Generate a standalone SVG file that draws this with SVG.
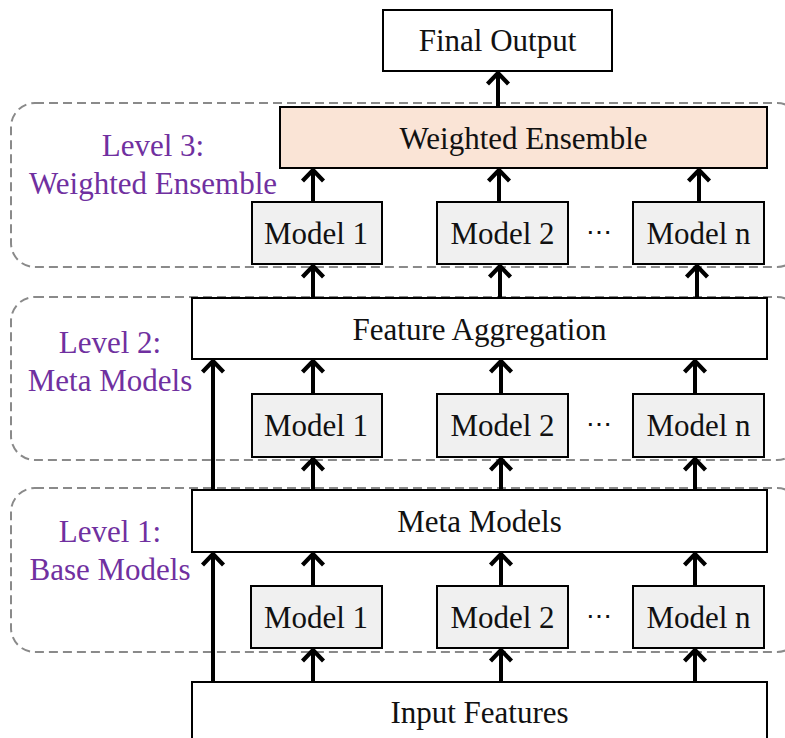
<svg xmlns="http://www.w3.org/2000/svg" width="785" height="738" viewBox="0 0 785 738">
  <style>
    .grp { fill: none; stroke: #8a8a8a; stroke-width: 2; stroke-dasharray: 9 5; }
    .box { fill: #ffffff; stroke: #000000; stroke-width: 2; }
    .model { fill: #f0f0f0; stroke: #000000; stroke-width: 2; }
    .ens { fill: #fae4d6; stroke: #000000; stroke-width: 2; }
    .t { font-family: "Liberation Serif", "Times New Roman", serif; font-size: 31px; fill: #111111; text-anchor: middle; }
    .dots { font-family: "Liberation Serif", "Times New Roman", serif; font-size: 26px; fill: #111111; text-anchor: middle; }
    .lvl { font-family: "Liberation Serif", "Times New Roman", serif; font-size: 31px; fill: #7030a0; text-anchor: middle; }
    .arr { stroke: #000000; stroke-width: 4; fill: none; marker-end: url(#head); }
  </style>
  <defs>
    <marker id="head" markerUnits="userSpaceOnUse" viewBox="-14 -14 18 28" refX="0" refY="0" markerWidth="18" markerHeight="28" orient="auto" overflow="visible">
      <path d="M-11,-10.5 L0,0 L-11,10.5" fill="none" stroke="#000000" stroke-width="4.2"/>
    </marker>
  </defs>

  <rect width="785" height="738" fill="#ffffff"/>

  <!-- level frames -->
  <g id="level3">
    <rect class="grp" x="11" y="103" width="790" height="164" rx="24"/>
    <text class="lvl" x="153" y="156">Level 3:</text>
    <text class="lvl" x="153" y="194">Weighted Ensemble</text>
  </g>
  <g id="level2">
    <rect class="grp" x="11" y="297" width="790" height="163" rx="24"/>
    <text class="lvl" x="110" y="353">Level 2:</text>
    <text class="lvl" x="110" y="391">Meta Models</text>
  </g>
  <g id="level1">
    <rect class="grp" x="11" y="488" width="790" height="164" rx="24"/>
    <text class="lvl" x="110" y="542">Level 1:</text>
    <text class="lvl" x="110" y="580">Base Models</text>
  </g>

  <!-- connectors -->
  <g id="connectors">
    <line class="arr" x1="498" y1="107" x2="498" y2="73"/>
    <line class="arr" x1="313" y1="202" x2="313" y2="170"/>
    <line class="arr" x1="499" y1="202" x2="499" y2="170"/>
    <line class="arr" x1="699" y1="202" x2="699" y2="170"/>
    <line class="arr" x1="313" y1="298" x2="313" y2="266"/>
    <line class="arr" x1="500" y1="298" x2="500" y2="266"/>
    <line class="arr" x1="697" y1="298" x2="697" y2="266"/>
    <line class="arr" x1="313" y1="394" x2="313" y2="361"/>
    <line class="arr" x1="501" y1="394" x2="501" y2="361"/>
    <line class="arr" x1="695" y1="394" x2="695" y2="361"/>
    <line class="arr" x1="213" y1="490" x2="213" y2="361"/>
    <line class="arr" x1="313" y1="490" x2="313" y2="459"/>
    <line class="arr" x1="501" y1="490" x2="501" y2="459"/>
    <line class="arr" x1="695" y1="490" x2="695" y2="459"/>
    <line class="arr" x1="313" y1="586" x2="313" y2="554"/>
    <line class="arr" x1="501" y1="586" x2="501" y2="554"/>
    <line class="arr" x1="695" y1="586" x2="695" y2="554"/>
    <line class="arr" x1="213" y1="682" x2="213" y2="554"/>
    <line class="arr" x1="313" y1="682" x2="313" y2="650"/>
    <line class="arr" x1="501" y1="682" x2="501" y2="650"/>
    <line class="arr" x1="695" y1="682" x2="695" y2="650"/>
  </g>

  <!-- nodes -->
  <g id="final-output">
    <rect class="box" x="383" y="10" width="229" height="61"/>
    <text class="t" x="497.5" y="51">Final Output</text>
  </g>
  <g id="weighted-ensemble">
    <rect class="ens" x="280" y="107" width="487" height="61"/>
    <text class="t" x="523.5" y="149">Weighted Ensemble</text>
  </g>
  <g id="l3-model-1">
    <rect class="model" x="252" y="202" width="130" height="62"/>
    <text class="t" x="316" y="244">Model 1</text>
  </g>
  <g id="l3-model-2">
    <rect class="model" x="437" y="202" width="131" height="62"/>
    <text class="t" x="502.5" y="244">Model 2</text>
  </g>
  <g id="l3-dots"><text class="dots" x="599" y="241">⋯</text></g>
  <g id="l3-model-n">
    <rect class="model" x="633" y="202" width="131" height="62"/>
    <text class="t" x="698.5" y="244">Model n</text>
  </g>

  <g id="feature-aggregation">
    <rect class="box" x="192" y="298" width="575" height="61"/>
    <text class="t" x="479.5" y="340">Feature Aggregation</text>
  </g>
  <g id="l2-model-1">
    <rect class="model" x="252" y="394" width="130" height="63"/>
    <text class="t" x="316" y="436">Model 1</text>
  </g>
  <g id="l2-model-2">
    <rect class="model" x="437" y="394" width="131" height="63"/>
    <text class="t" x="502.5" y="436">Model 2</text>
  </g>
  <g id="l2-dots"><text class="dots" x="599" y="433">⋯</text></g>
  <g id="l2-model-n">
    <rect class="model" x="633" y="394" width="131" height="63"/>
    <text class="t" x="698.5" y="436">Model n</text>
  </g>

  <g id="meta-models">
    <rect class="box" x="192" y="490" width="575" height="62"/>
    <text class="t" x="479.5" y="532">Meta Models</text>
  </g>
  <g id="l1-model-1">
    <rect class="model" x="251" y="586" width="131" height="62"/>
    <text class="t" x="316" y="628">Model 1</text>
  </g>
  <g id="l1-model-2">
    <rect class="model" x="437" y="586" width="131" height="62"/>
    <text class="t" x="502.5" y="628">Model 2</text>
  </g>
  <g id="l1-dots"><text class="dots" x="599" y="625">⋯</text></g>
  <g id="l1-model-n">
    <rect class="model" x="633" y="586" width="131" height="62"/>
    <text class="t" x="698.5" y="628">Model n</text>
  </g>

  <g id="input-features">
    <rect class="box" x="192" y="682" width="575" height="70"/>
    <text class="t" x="479.5" y="723">Input Features</text>
  </g>
</svg>
